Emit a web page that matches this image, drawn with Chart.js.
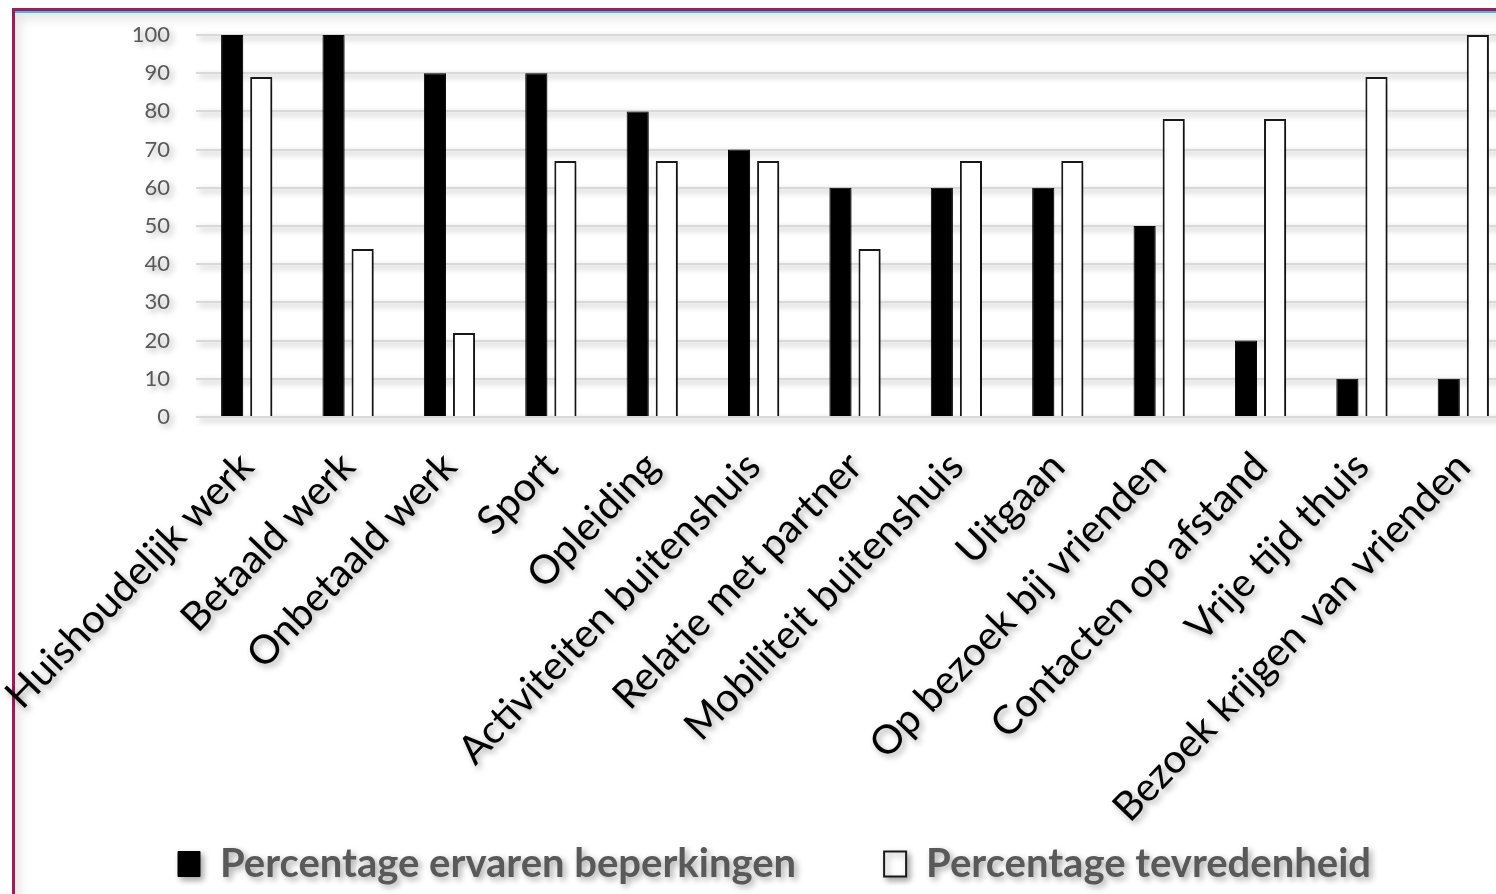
<!DOCTYPE html>
<html>
<head>
<meta charset="utf-8">
<script src="https://cdn.jsdelivr.net/npm/chart.js@4"></script>
<style>
  html, body { margin: 0; padding: 0; background: #fff; overflow: hidden; width: 1496px; height: 894px; }
  #frame {
    position: absolute; left: 12px; top: 8px; width: 1600px; height: 1000px;
    border-left: 3px solid #a3195b; border-top: 3px solid #a3195b;
    box-shadow: inset 0 2px 0 #3cbfe0, inset 5px 8px 12px rgba(0,0,0,0.10);
  }
  #wrap { position: absolute; left: 0; top: 0; width: 1514px; height: 894px; }
</style>
</head>
<body>
<div id="frame"></div>
<div id="wrap"><canvas id="chart"></canvas></div>
<script>
// categorieën en waarden
const categories = [
  "Huishoudelijk werk", "Betaald werk", "Onbetaald werk", "Sport", "Opleiding",
  "Activiteiten buitenshuis", "Relatie met partner", "Mobiliteit buitenshuis",
  "Uitgaan", "Op bezoek bij vrienden", "Contacten op afstand",
  "Vrije tijd thuis", "Bezoek krijgen van vrienden"
];
const beperkingen = [100, 100, 90, 90, 80, 70, 60, 60, 60, 50, 20, 10, 10];
const tevredenheid = [89, 44, 22, 67, 67, 67, 44, 67, 67, 78, 78, 89, 100];
const yTicks = [0, 10, 20, 30, 40, 50, 60, 70, 80, 90, 100];

const PAD_LEFT = 35;
const Y_AXIS_RIGHT = 196;

// schaduw zoals in het Excel-origineel
const shadowPlugin = {
  id: "shadow",
  beforeDraw(chart) {
    const c = chart.ctx;
    c.save();
    c.shadowColor = "rgba(0,0,0,0.35)";
    c.shadowBlur = 6;
    c.shadowOffsetX = 3;
    c.shadowOffsetY = 3;
  },
  afterDraw(chart) {
    chart.ctx.restore();
  },
  // de schuine labels lopen tot boven de legenda door; niet afknippen
  afterLayout(chart) {
    chart.scales.x.bottom = chart.height;
  },
};

new Chart(document.getElementById("chart"), {
  type: "bar",
  data: {
    labels: categories,
    datasets: [
      {
        label: "Percentage ervaren beperkingen",
        data: beperkingen,
        backgroundColor: "#000000",
        borderColor: "#000000",
        borderWidth: 1,
        categoryPercentage: 0.574,
        barPercentage: 0.76,
      },
      {
        label: "Percentage tevredenheid",
        data: tevredenheid,
        backgroundColor: "#ffffff",
        borderColor: "#1a1a1a",
        borderWidth: 2,
        categoryPercentage: 0.574,
        barPercentage: 0.76,
      },
    ],
  },
  options: {
    responsive: true,
    maintainAspectRatio: false,
    animation: false,
    devicePixelRatio: 1,
    layout: { padding: { left: PAD_LEFT, top: 35, right: 0, bottom: 0 } },
    plugins: {
      tooltip: { enabled: false },
      legend: {
        position: "bottom",
        labels: {
          color: "#595959",
          font: { family: "Lato", size: 40, weight: "bold" },
          boxWidth: 22,
          boxHeight: 25,
          padding: 88,
        },
      },
    },
    scales: {
      x: {
        grid: { display: false, drawTicks: false },
        border: { display: false },
        ticks: {
          color: "#000000",
          font: { family: "Lato", size: 40 },
          maxRotation: 46,
          minRotation: 46,
          padding: 26,
          autoSkip: false,
        },
        afterFit(scale) {
          scale.height = 339;
          scale.paddingLeft = 0;
          scale.paddingRight = 0;
        },
      },
      y: {
        min: 0,
        max: 100,
        afterBuildTicks(scale) { scale.ticks = yTicks.map(v => ({ value: v })); },
        grid: { color: "#d9d9d9", lineWidth: 2, drawTicks: false },
        border: { display: false },
        ticks: {
          color: "#595959",
          font: { family: "Lato", size: 22 },
          padding: 26,
        },
        afterFit(scale) {
          scale.width = Y_AXIS_RIGHT - PAD_LEFT;
          scale.paddingTop = 0;
          scale.paddingBottom = 0;
        },
      },
    },
  },
  plugins: [shadowPlugin],
});
</script>
</body>
</html>
